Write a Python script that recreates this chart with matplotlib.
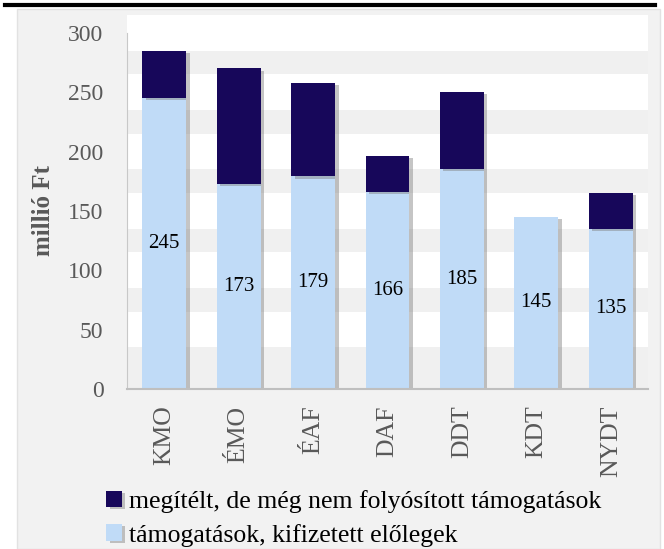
import matplotlib.pyplot as plt
import matplotlib.patheffects as pe
from matplotlib.patches import Rectangle
import numpy as np

# régiók és értékek (millió Ft)
regiok = ['KMO', 'ÉMO', 'ÉAF', 'DAF', 'DDT', 'KDT', 'NYDT']
kifizetett = [245, 173, 179, 166, 185, 145, 135]
megitelt = [40, 97, 79, 30, 65, 0, 30]

sotet = '#17075a'
vilagos = '#c0dbf7'
szurke_szoveg = '#595959'

plt.rcParams['font.family'] = ['Liberation Serif', 'DejaVu Serif']

fig = plt.figure(figsize=(6.64, 5.49), dpi=100)
fig.patch.set_facecolor('white')

# szürke háttérpanel és a fekete vonal felül
fig.add_artist(Rectangle((17 / 664, 0), 643 / 664, 1 - 9 / 549,
                         transform=fig.transFigure, facecolor='#f2f2f2',
                         edgecolor='#e2e2e2', linewidth=1, zorder=0))
fig.add_artist(plt.Line2D([5 / 664, 655 / 664], [1 - 5 / 549, 1 - 5 / 549],
                          transform=fig.transFigure, color='black', linewidth=3))

ax = fig.add_axes([127 / 664, 1 - 389 / 549, 521 / 664, 374 / 549])
ax.set_facecolor('#f0f0f0')

# fehér sávok a rácsvonalak körül
for t in range(50, 301, 50):
    ax.axhspan(t - 15, min(t + 15, 315), color='white', zorder=0, linewidth=0)

x = np.arange(len(regiok))
arnyek = [pe.SimplePatchShadow(offset=(2.5, -1.5), shadow_rgbFace='#7f7f7f', alpha=0.45), pe.Normal()]

b1 = ax.bar(x, kifizetett, width=0.59, color=vilagos, zorder=2, linewidth=0,
            label='támogatások, kifizetett előlegek')
b2 = ax.bar(x, megitelt, width=0.59, bottom=kifizetett, color=sotet, linewidth=0,
            zorder=2, label='megítélt, de még nem folyósított támogatások')
for r in list(b1) + [r for r, v in zip(b2, megitelt) if v > 0]:
    r.set_path_effects(arnyek)

for xi, v in zip(x, kifizetett):
    ax.text(xi, v / 2, str(v), ha='center', va='center', fontsize=15,
            color='black', zorder=3)

ax.set_xlim(-0.5, len(regiok) - 0.5)
ax.set_ylim(0, 315)
ax.set_yticks(range(0, 301, 50))
ax.set_xticks(x)
ax.set_xticklabels(regiok, rotation=90, va='top')
ax.tick_params(axis='both', length=0, colors=szurke_szoveg)
ax.tick_params(axis='y', pad=17, labelsize=17)
ax.tick_params(axis='x', pad=12, labelsize=18.5)

for s in ['top', 'right']:
    ax.spines[s].set_visible(False)
ax.spines['left'].set_bounds(0, 300)
ax.spines['left'].set_color('#c8c8c8')
ax.spines['bottom'].set_color('#bfbfbf')
ax.spines['bottom'].set_linewidth(1.5)

fig.text(44 / 664, 1 - 210 / 549, 'millió Ft', rotation=90, ha='center', va='center',
         fontsize=18, fontweight='bold', color=szurke_szoveg)

fig.legend(handles=[b2, b1], loc='upper left', bbox_to_anchor=(96 / 664, 1 - 480 / 549),
           frameon=False, fontsize=18.5, handlelength=0.6, handleheight=0.6,
           handletextpad=0.3, labelspacing=0.4, borderaxespad=0)

fig.savefig('out.png', dpi=100)
